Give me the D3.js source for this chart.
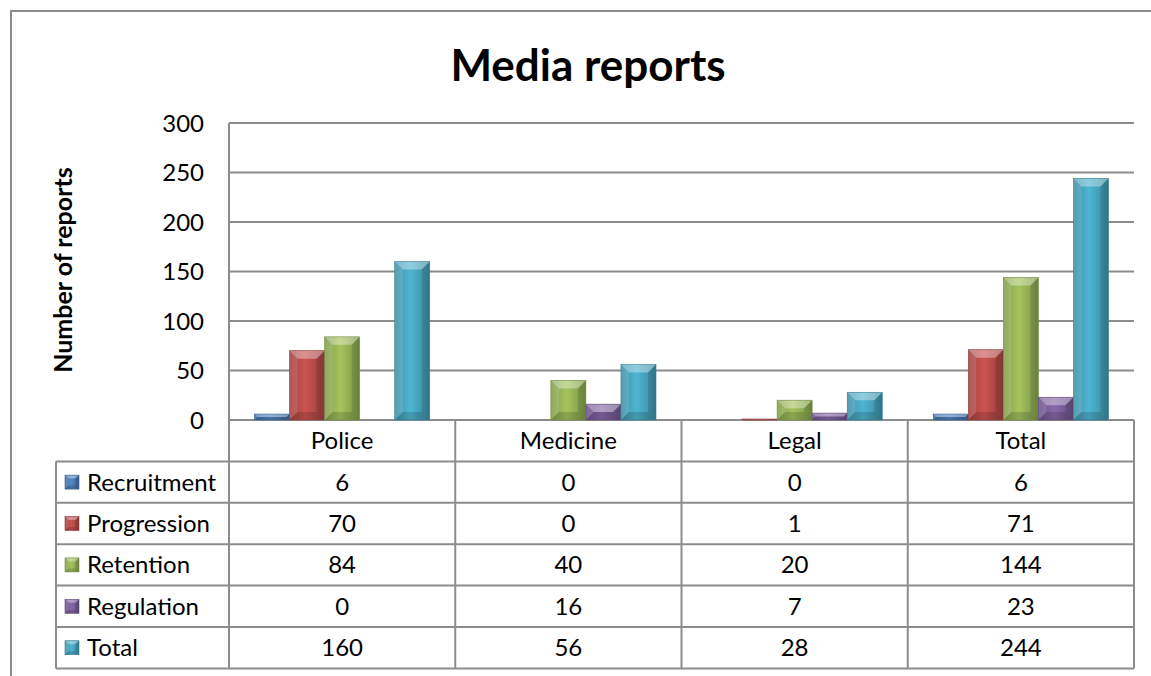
<!DOCTYPE html>
<html>
<head>
<meta charset="utf-8">
<script src="https://cdn.jsdelivr.net/npm/d3@7"></script>
<style>
body { margin: 0; background: #fff; }
text { font-family: Lato, "Open Sans", sans-serif; fill: #000; }
</style>
</head>
<body>
<div id="chart-box"></div>
<script>
// Chart data
const categories = ["Police", "Medicine", "Legal", "Total"];
const seriesNames = ["Recruitment", "Progression", "Retention", "Regulation", "Total"];
const recruitment = [6, 0, 0, 6];
const progression = [70, 0, 1, 71];
const retention = [84, 40, 20, 144];
const regulation = [0, 16, 7, 23];
const totals = [160, 56, 28, 244];
const yTicks = [0, 50, 100, 150, 200, 250, 300];
const colors = ["#4F81BD", "#C0504D", "#9BBB59", "#8064A2", "#4BACC6"];

const values = [recruitment, progression, retention, regulation, totals];

const w = 1151, h = 676;
const plotLeft = 229, plotRight = 1134, plotTop = 123, base = 420;
const rowH = 41.4, tableLeft = 56;
const lineCol = "#8c8c8c";
const fs = 24;

const svg = d3.select("#chart-box")
	.append("svg")
	.attr("width", w)
	.attr("height", h)
	.style("background", "#fff");

// gradients for the bevelled bars
const defs = svg.append("defs");
colors.forEach((c, i) => {
	const g = defs.append("linearGradient").attr("id", "grad" + i)
		.attr("x1", "0").attr("x2", "1").attr("y1", "0").attr("y2", "0");
	g.append("stop").attr("offset", "0%").attr("stop-color", d3.color(c).darker(0.5));
	g.append("stop").attr("offset", "45%").attr("stop-color", d3.color(c).brighter(0.15));
	g.append("stop").attr("offset", "100%").attr("stop-color", d3.color(c).darker(0.7));
});

// outer frame
svg.append("path")
	.attr("d", `M11,${h} L11,11 L${w},11`)
	.attr("fill", "none")
	.attr("stroke", lineCol)
	.attr("stroke-width", 2);

// title
svg.append("text")
	.attr("x", 588)
	.attr("y", 81)
	.attr("text-anchor", "middle")
	.style("font-size", "44px")
	.style("font-weight", "bold")
	.text("Media reports");

// axis title
svg.append("text")
	.attr("transform", "translate(72,270) rotate(-90)")
	.attr("text-anchor", "middle")
	.style("font-size", "25px")
	.style("font-weight", "bold")
	.text("Number of reports");

// scales
const yScale = d3.scaleLinear().domain([0, 300]).range([base, plotTop]);
const xScale = d3.scaleBand().domain(categories).range([plotLeft, plotRight]).padding(0);
const xSub = d3.scaleBand().domain(seriesNames)
	.range([25.5, xScale.bandwidth() - 25.5]).padding(0);

// gridlines
svg.append("g")
	.selectAll("line")
	.data(yTicks)
	.enter()
	.append("line")
	.attr("x1", plotLeft).attr("x2", plotRight)
	.attr("y1", d => yScale(d)).attr("y2", d => yScale(d))
	.attr("stroke", lineCol)
	.attr("stroke-width", 2);

// y axis line
svg.append("line")
	.attr("x1", plotLeft).attr("x2", plotLeft)
	.attr("y1", plotTop).attr("y2", base)
	.attr("stroke", lineCol)
	.attr("stroke-width", 2);

// y tick labels
svg.append("g")
	.selectAll("text")
	.data(yTicks)
	.enter()
	.append("text")
	.attr("x", 204)
	.attr("y", d => yScale(d) + 8.5)
	.attr("text-anchor", "end")
	.style("font-size", fs + "px")
	.text(d => d);

// bars
const bars = [];
categories.forEach((cat, ci) => {
	seriesNames.forEach((s, si) => {
		bars.push({cat: cat, series: s, si: si, v: values[si][ci]});
	});
});

const barG = svg.append("g");
const drawBar = (g, x0, y0, bw, bh, si) => {
	if (bh <= 0) return;
	const x1 = x0 + bw, y1 = y0 + bh;
	const b = Math.min(8, bw / 4, bh / 2);
	g.append("rect")
		.attr("x", x0).attr("y", y0).attr("width", bw).attr("height", bh)
		.attr("fill", `url(#grad${si})`);
	// top bevel
	g.append("path")
		.attr("d", `M${x0},${y0} L${x1},${y0} L${x1 - b},${y0 + b} L${x0 + b},${y0 + b} Z`)
		.attr("fill", "#fff").attr("opacity", 0.35);
	// left bevel
	g.append("path")
		.attr("d", `M${x0},${y0} L${x0 + b},${y0 + b} L${x0 + b},${y1 - b} L${x0},${y1} Z`)
		.attr("fill", "#fff").attr("opacity", 0.12);
	// right bevel
	g.append("path")
		.attr("d", `M${x1},${y0} L${x1 - b},${y0 + b} L${x1 - b},${y1 - b} L${x1},${y1} Z`)
		.attr("fill", "#000").attr("opacity", 0.12);
	// bottom bevel
	g.append("path")
		.attr("d", `M${x0},${y1} L${x0 + b},${y1 - b} L${x1 - b},${y1 - b} L${x1},${y1} Z`)
		.attr("fill", "#000").attr("opacity", 0.15);
	g.append("rect")
		.attr("x", x0).attr("y", y0).attr("width", bw).attr("height", bh)
		.attr("fill", "none")
		.attr("stroke", d3.color(colors[si]).darker(0.8))
		.attr("stroke-width", 0.6);
};

bars.forEach(d => {
	const x0 = xScale(d.cat) + xSub(d.series);
	const y0 = yScale(d.v);
	drawBar(barG, x0, y0, xSub.bandwidth(), base - y0, d.si);
});

// data table
const tableBottom = base + rowH * 6;
const tg = svg.append("g");
// vertical cell lines
const vLines = categories.map(c => xScale(c)).concat([plotRight]);
tg.selectAll("line.v")
	.data(vLines)
	.enter()
	.append("line")
	.attr("class", "v")
	.attr("x1", d => d).attr("x2", d => d)
	.attr("y1", base).attr("y2", tableBottom)
	.attr("stroke", lineCol).attr("stroke-width", 2);
tg.append("line")
	.attr("x1", tableLeft).attr("x2", tableLeft)
	.attr("y1", base + rowH).attr("y2", tableBottom)
	.attr("stroke", lineCol).attr("stroke-width", 2);
// horizontal cell lines
tg.selectAll("line.h")
	.data(d3.range(1, 7))
	.enter()
	.append("line")
	.attr("class", "h")
	.attr("x1", tableLeft).attr("x2", plotRight)
	.attr("y1", d => base + rowH * d).attr("y2", d => base + rowH * d)
	.attr("stroke", lineCol).attr("stroke-width", 2);

// header labels
tg.selectAll("text.cat")
	.data(categories)
	.enter()
	.append("text")
	.attr("class", "cat")
	.attr("x", d => xScale(d) + xScale.bandwidth() / 2)
	.attr("y", base + rowH / 2 + 8.5)
	.attr("text-anchor", "middle")
	.style("font-size", fs + "px")
	.text(d => d);

// row legend + values
seriesNames.forEach((s, si) => {
	const rowY = base + rowH * (si + 1);
	const midY = rowY + rowH / 2;
	const kg = tg.append("g");
	drawBar(kg, 65, midY - 7, 14, 14, si);
	tg.append("text")
		.attr("x", 87)
		.attr("y", midY + 8.5)
		.style("font-size", fs + "px")
		.text(s);
	tg.selectAll(null)
		.data(values[si])
		.enter()
		.append("text")
		.attr("x", (d, i) => xScale(categories[i]) + xScale.bandwidth() / 2)
		.attr("y", midY + 8.5)
		.attr("text-anchor", "middle")
		.style("font-size", fs + "px")
		.text(d => d);
});
</script>
</body>
</html>
